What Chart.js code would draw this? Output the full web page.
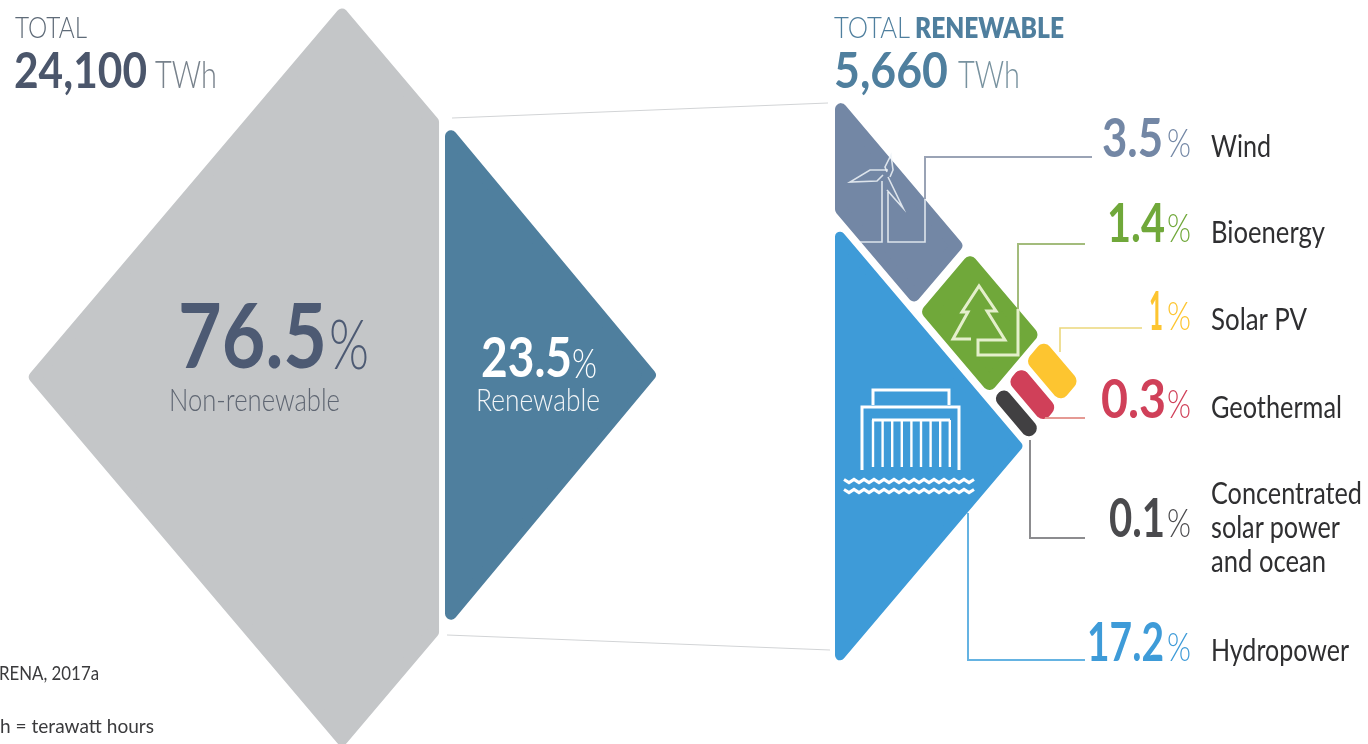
<!DOCTYPE html>
<html>
<head>
<meta charset="utf-8">
<title>Renewable share of electricity generation</title>
<script src="https://cdn.jsdelivr.net/npm/chart.js@4"></script>
<style>
  html, body { margin: 0; padding: 0; background: #fff; overflow: hidden; }
  #stage { position: relative; width: 1368px; height: 744px; overflow: hidden; }
  #stage canvas { position: absolute; left: 0; top: 0; }
  .txt { position: absolute; white-space: nowrap; line-height: 1; transform-origin: 0 0; font-family: Lato, sans-serif; }
</style>
</head>
<body>
<div id="stage"><canvas id="chart" width="1368" height="744"></canvas></div>
<script>
// values
const totalTWh = 24100;
const renewableTWh = 5660;
const nonRenewableShare = 76.5;
const renewableShare = 23.5;
const categories = ['Wind', 'Bioenergy', 'Solar PV', 'Geothermal', 'Concentrated solar power and ocean', 'Hydropower'];
const shares = [3.5, 1.4, 1, 0.3, 0.1, 17.2];
const colors = ['#7387a5', '#70a83a', '#fdc530', '#d04059', '#414042', '#3e9bd8'];

const FONT = 'Lato, sans-serif';
const SLOPE = 1.18;

const datasets = [];

function addShape(points, color, radius) {
  const p = inset(points, radius);
  datasets.push({
    data: p.concat([p[0], p[1]]),
    borderColor: color,
    backgroundColor: color,
    borderWidth: radius * 2,
    borderJoinStyle: 'round',
    borderCapStyle: 'round',
    fill: 'shape',
    pointRadius: 0,
    tension: 0
  });
}

function addLine(points, color, width) {
  datasets.push({
    data: points.map(p => ({ x: p[0], y: p[1] })),
    borderColor: color,
    borderWidth: width,
    borderJoinStyle: 'miter',
    fill: false,
    pointRadius: 0,
    tension: 0
  });
}

// shrink a polygon by r so a round stroke of width 2r brings it back with soft corners
function inset(pts, r) {
  let area = 0;
  pts.forEach((p, i) => {
    const q = pts[(i + 1) % pts.length];
    area += p.x * q.y - q.x * p.y;
  });
  const sign = area > 0 ? 1 : -1;
  return pts.map((p, i) => {
    const a = pts[(i - 1 + pts.length) % pts.length];
    const b = pts[(i + 1) % pts.length];
    const d1 = unit(a, p);
    const d2 = unit(p, b);
    const n1 = { x: -d1.y * sign, y: d1.x * sign };
    const n2 = { x: -d2.y * sign, y: d2.x * sign };
    const k = r / (1 + n1.x * n2.x + n1.y * n2.y);
    return { x: p.x + (n1.x + n2.x) * k, y: p.y + (n1.y + n2.y) * k };
  });
}

function unit(a, b) {
  const len = Math.hypot(b.x - a.x, b.y - a.y);
  return { x: (b.x - a.x) / len, y: (b.y - a.y) / len };
}

// left diamond: its right corner is cut off in proportion to the renewable area
const dia = { x: 342, y: 377, w: 315 };
function cutWidth(share) {
  return dia.w * Math.sqrt(2 * share / 100);
}
const leftCut = dia.x + dia.w - cutWidth(100 - nonRenewableShare) - 2;
const leftCutH = (leftCut - dia.x) * SLOPE;
addShape([
  { x: dia.x - dia.w, y: dia.y },
  { x: dia.x, y: dia.y - dia.w * SLOPE },
  { x: leftCut, y: dia.y - dia.w * SLOPE + leftCutH },
  { x: leftCut, y: dia.y + dia.w * SLOPE - leftCutH },
  { x: dia.x, y: dia.y + dia.w * SLOPE }
], '#c4c6c8', 6);

const renW = cutWidth(renewableShare) * 0.985;
const renY = 375;
addShape([
  { x: 445, y: renY - renW * 1.2 },
  { x: 445 + renW, y: renY },
  { x: 445, y: renY + renW * 1.2 }
], '#4f7f9e', 6);

// right triangle: s runs down the upper edge, t across it towards the vertical side
const apex = { x: 835, y: 93 };
const sideX = 244;
const sideY = 288;
function at(s, t) {
  return { x: apex.x + sideX * (s - t), y: apex.y + sideY * (s + t) };
}
function band(s0, s1, t0, t1) {
  return [at(s0, t0), at(s1, t0), at(s1, t1), at(s0, t1)];
}

// small categories are enlarged so that they stay readable
const hydroScale = 0.905 * Math.sqrt(shares[5] / renewableShare);
const hydroT = 1 - hydroScale;
const bandT = hydroT - 0.02;
const windS = 0.2245 * Math.pow(shares[0], 0.685);
const bioS0 = windS + 0.024;
const bioS = bioS0 + 0.2265 * Math.pow(shares[1], 0.685);
const stripS0 = bioS + 0.017;

const stripT = [shares[2], shares[3], shares[4]].map(v => 0.075 * Math.pow(v, 0.25));
const stripGap = (bandT - stripT[0] - stripT[1] - stripT[2]) / 2;

addShape([at(0, 0), at(windS, 0), at(windS, bandT), at(bandT, bandT)], colors[0], 6);
addShape(band(bioS0, bioS, 0, bandT), colors[1], 7);
let t = 0;
stripT.forEach((w, i) => {
  addShape(band(stripS0, 1, t, t + w), colors[i + 2], Math.min(8, w * 372 / 2 - 0.5));
  t += w + stripGap;
});
addShape([at(hydroT, hydroT), at(1, hydroT), at(1, 1)], colors[5], 5);

// connectors between the two diagrams
addLine([[452, 118], [828, 103]], '#d2d4d6', 1.2);
addLine([[447, 635], [830, 650]], '#d2d4d6', 1.2);

// leader lines
const ink = 'rgba(240,244,248,0.85)';
addLine([[1092, 157], [925, 157], [925, 199]], '#9aa3b5', 2);
addLine([[925, 199], [925, 242], [888, 242], [888, 192]], ink, 1.6);
addLine([[860, 242], [882, 242], [882, 181]], ink, 1.6);
addLine([[888, 170], [870, 170], [850, 182], [877, 181], [883, 175]], ink, 1.6);
addLine([[887, 172], [885, 167], [891, 155], [893, 170], [890, 177]], ink, 1.6);
addLine([[888, 177], [903, 208], [894, 198], [887, 190]], ink, 1.6);

addLine([[1085, 244], [1018, 244], [1018, 309]], '#a3bc7c', 2);
const treeInk = '#e4efcb';
addLine([[1018, 309], [1018, 355], [978, 355], [978, 340], [1005, 340], [987, 311], [996, 311], [979, 286],
  [962, 312], [968, 312], [953, 339], [971, 339]], treeInk, 3);

addLine([[1142, 328], [1060, 328], [1060, 352]], '#ecd77c', 1.6);
addLine([[1045, 418], [1085, 418]], '#e59a94', 2);
addLine([[1030, 440], [1030, 538], [1085, 538]], '#8c8c8f', 2);
addLine([[968, 513], [968, 660], [1085, 660]], '#65b3e2', 2);

// hydropower icon
addLine([[873, 405], [873, 390], [949, 390], [949, 405]], '#fff', 3);
addLine([[862, 470], [862, 407], [959, 407], [959, 470]], '#fff', 3);
addLine([[872, 420], [950, 420]], '#fff', 3);
for (let i = 0; i < 9; i++) {
  const gx = 873 + i * 9.6;
  addLine([[gx, 420], [gx, 467]], '#fff', 2.4);
}
[481, 491].forEach(wy => {
  const wave = [];
  for (let wx = 844, up = true; wx <= 978; wx += 5, up = !up) wave.push([wx, wy + (up ? -1.6 : 1.6)]);
  addLine(wave, '#fff', 3);
});

datasets.forEach((d, i) => { d.order = -i; });

new Chart(document.getElementById('chart'), {
  type: 'line',
  data: { datasets },
  options: {
    responsive: false,
    animation: false,
    events: [],
    layout: { padding: 0 },
    plugins: { legend: { display: false }, tooltip: { enabled: false } },
    scales: {
      x: { type: 'linear', display: false, min: 0, max: 1368 },
      y: { type: 'linear', display: false, min: 0, max: 744, reverse: true }
    }
  }
});

// text: x, baseline y, font size, weight, colour, drawn width
const measure = document.createElement('canvas').getContext('2d');
function text(str, x, y, size, weight, color, width) {
  const el = document.createElement('div');
  el.className = 'txt';
  el.textContent = str;
  el.style.fontSize = size + 'px';
  el.style.fontWeight = weight;
  el.style.color = color;
  measure.font = weight + ' ' + size + 'px ' + FONT;
  const m = measure.measureText(str);
  const a = m.fontBoundingBoxAscent;
  const d = m.fontBoundingBoxDescent;
  el.style.left = x + 'px';
  el.style.top = (y - (size - a - d) / 2 - a) + 'px';
  document.getElementById('stage').appendChild(el);
  if (width) el.style.transform = 'scaleX(' + width / el.getBoundingClientRect().width + ')';
}

const grayInk = '#4b566b';
const blueInk = '#4f7f9e';
text('TOTAL', 15, 38, 29, 300, '#5f6b78', 72);
text(totalTWh.toLocaleString('en-US'), 14, 88, 50, 700, grayInk, 133);
text('TWh', 155, 88, 38, 300, '#78828c', 62);
text('TOTAL', 834, 38, 29, 300, blueInk, 76);
text('RENEWABLE', 915, 38, 29, 800, blueInk, 149);
text(renewableTWh.toLocaleString('en-US'), 834, 88, 50, 700, blueInk, 114);
text('TWh', 958, 88, 38, 300, '#78929f', 62);

text(String(nonRenewableShare), 178, 368, 90, 700, '#4d5a73', 149);
text('%', 329, 369, 68, 300, '#4d5a73', 40);
text('Non-renewable', 169, 411, 31, 300, '#5f6672', 171);
text(String(renewableShare), 481, 377, 55, 700, '#fff', 91);
text('%', 572, 378, 41, 300, '#fff', 25);
text('Renewable', 476, 411, 31, 300, '#f2f5f7', 124);

// one row per category: number baseline, number left and width
const rowBase = [157, 242, 330, 418, 537, 661];
const numLeft = [1102, 1107, 1149, 1101, 1109, 1087];
const numWidth = [61, 58, 14, 65, 56, 77];
categories.forEach((name, i) => {
  text(String(shares[i]), numLeft[i], rowBase[i], 54, 700, i === 4 ? '#4a4a4d' : colors[i], numWidth[i]);
  text('%', 1167, rowBase[i], 40, 300, i === 4 ? '#4a4a4d' : colors[i], 24);
});
text('Wind', 1211, 157, 30, 400, '#2f2f31', 60);
text('Bioenergy', 1211, 243, 30, 400, '#2f2f31', 114);
text('Solar PV', 1211, 330, 30, 400, '#2f2f31', 96);
text('Geothermal', 1211, 418, 30, 400, '#2f2f31', 131);
text('Concentrated', 1211, 504, 30, 400, '#2f2f31', 151);
text('solar power', 1211, 538, 30, 400, '#2f2f31', 129);
text('and ocean', 1211, 572, 30, 400, '#2f2f31', 115);
text('Hydropower', 1211, 661, 30, 400, '#2f2f31', 138);

text('RENA, 2017a', -1, 680, 19, 400, '#3a3a3c', 100);
text('h = terawatt hours', 0, 733, 19, 400, '#3a3a3c', 154);
</script>
</body>
</html>
